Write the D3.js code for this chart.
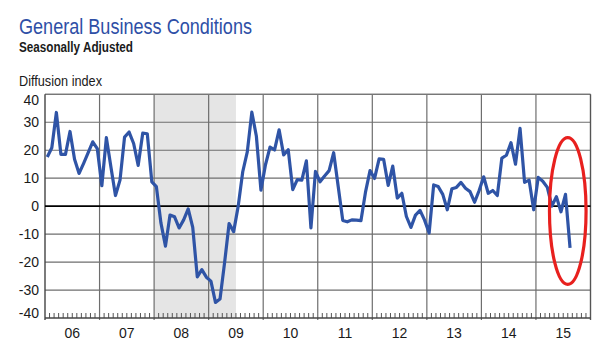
<!DOCTYPE html>
<html>
<head>
<meta charset="utf-8">
<script src="https://cdn.jsdelivr.net/npm/d3@7"></script>
<style>
  html, body { margin: 0; padding: 0; background: #fff; }
  svg { display: block; }
</style>
</head>
<body>
<svg id="chart" width="599" height="350"></svg>
<script>
// ---- Data (monthly, Jan 2006 – Aug 2015) ----
const startYear = 2006;
const yearLabels = ["06","07","08","09","10","11","12","13","14","15"];
const yTicks = [40, 30, 20, 10, 0, -10, -20, -30, -40];
const generalBusiness = [
  // 2006
  17.6, 20.9, 33.5, 18.5, 18.5, 26.7, 16.8, 11.7, 15.3, 19.1, 23.0, 20.6,
  // 2007
  7.3, 24.5, 14.0, 3.8, 9.3, 24.7, 26.5, 22.4, 14.6, 26.1, 25.9, 8.7,
  // 2008
  7.0, -6.0, -14.3, -3.2, -3.8, -7.8, -4.9, -1.0, -7.6, -25.3, -22.7, -25.4,
  // 2009
  -26.8, -34.4, -33.2, -20.3, -6.2, -9.1, 0.0, 12.3, 19.4, 33.6, 25.0, 5.7,
  // 2010
  14.8, 21.1, 20.1, 27.3, 18.3, 20.2, 5.9, 9.5, 9.3, 16.2, -7.8, 12.4,
  // 2011
  8.7, 10.8, 12.7, 19.1, 7.0, -5.1, -5.6, -4.9, -5.0, -5.2, 5.0, 12.7,
  // 2012
  9.9, 16.9, 16.7, 7.4, 14.3, 2.9, 4.6, -3.7, -7.6, -3.2, -1.5, -5.0,
  // 2013
  -9.6, 7.6, 7.0, 4.2, -1.3, 6.2, 6.7, 8.5, 6.4, 5.2, 1.4, 5.6,
  // 2014
  10.5, 4.6, 5.6, 3.8, 17.2, 18.2, 22.7, 15.0, 27.8, 8.5, 9.3, -1.3,
  // 2015
  10.3, 8.9, 6.7, 0.0, 3.4, -2.0, 4.2, -14.9
];
// Recession (month indexes from Jan 2006): Jan 2008 .. Jun 2009 inclusive
const recession = [24, 41];
// Highlight centre month index (Aug 2015) and value range it encloses
const highlightMonth = 115;
const highlightRange = [-28, 24.5];

const svg = d3.select("#chart");
const pLeft = 45, pRight = 590.5, pTop = 94.3, pBottom = 318;

const x = d3.scaleLinear().domain([0, yearLabels.length * 12]).range([pLeft, pRight]);
const y = d3.scaleLinear().domain([-40, 40]).range([pBottom, pTop]);

const regular = "'Liberation Sans',Arial,sans-serif";

// Titles (condensed via textLength)
svg.append("text").attr("x", 19).attr("y", 34).attr("fill", "#2e4fa6")
  .attr("textLength", 233).attr("lengthAdjust", "spacingAndGlyphs")
  .style("font-family", regular).style("font-size", "22px")
  .text("General Business Conditions");
svg.append("text").attr("x", 19).attr("y", 51.5).attr("fill", "#1a1a1a")
  .attr("textLength", 114).attr("lengthAdjust", "spacingAndGlyphs")
  .style("font-family", regular).style("font-size", "14px").style("font-weight", "bold")
  .text("Seasonally Adjusted");
svg.append("text").attr("x", 19).attr("y", 85.5).attr("fill", "#1a1a1a")
  .attr("textLength", 83).attr("lengthAdjust", "spacingAndGlyphs")
  .style("font-family", regular).style("font-size", "14px").style("font-weight", "500")
  .text("Diffusion index");

// Recession shading
svg.append("rect")
  .attr("x", x(recession[0])).attr("y", pTop)
  .attr("width", x(recession[1] + 1) - x(recession[0]))
  .attr("height", pBottom - pTop)
  .attr("fill", "#e5e5e5");

// Horizontal gridlines
svg.append("g").selectAll("line").data(yTicks.filter(d => d !== 0 && d !== -40))
  .join("line")
  .attr("x1", pLeft).attr("x2", pRight)
  .attr("y1", d => y(d)).attr("y2", d => y(d))
  .attr("stroke", "#6e6e6e").attr("stroke-width", 1.2);

// Vertical year lines
const years = d3.range(1, yearLabels.length);
svg.append("g").selectAll("line").data(years)
  .join("line")
  .attr("x1", d => x(d * 12)).attr("x2", d => x(d * 12))
  .attr("y1", pTop).attr("y2", pBottom + 2)
  .attr("stroke", "#6e6e6e").attr("stroke-width", 1.2);

// Minor month ticks
const months = d3.range(1, yearLabels.length * 12).filter(m => m % 12 !== 0);
svg.append("g").selectAll("line").data(months)
  .join("line")
  .attr("x1", d => x(d)).attr("x2", d => x(d))
  .attr("y1", pBottom - 5).attr("y2", pBottom)
  .attr("stroke", "#555").attr("stroke-width", 1);

// Frame
svg.append("line").attr("x1", pLeft).attr("x2", pRight).attr("y1", pTop).attr("y2", pTop)
  .attr("stroke", "#777").attr("stroke-width", 1.2);
svg.append("line").attr("x1", pRight).attr("x2", pRight).attr("y1", pTop).attr("y2", pBottom + 2)
  .attr("stroke", "#555").attr("stroke-width", 1.4);
svg.append("line").attr("x1", pLeft).attr("x2", pLeft).attr("y1", pTop).attr("y2", pBottom + 2)
  .attr("stroke", "#444").attr("stroke-width", 1.4);
svg.append("line").attr("x1", pLeft).attr("x2", pRight).attr("y1", pBottom).attr("y2", pBottom)
  .attr("stroke", "#444").attr("stroke-width", 1.4);

// Zero line
svg.append("line").attr("x1", pLeft).attr("x2", pRight).attr("y1", y(0)).attr("y2", y(0))
  .attr("stroke", "#000").attr("stroke-width", 1.6);

// Y tick labels
svg.append("g").selectAll("text").data(yTicks)
  .join("text")
  .attr("x", 39)
  .attr("y", d => y(d) + (d === 40 ? 5.5 : d === -40 ? -4.5 : 0))
  .attr("dy", "0.35em")
  .attr("text-anchor", "end")
  .attr("fill", "#1a1a1a")
  .style("font-family", regular).style("font-size", "14px")
  .text(d => d);

// X year labels
svg.append("g").selectAll("text").data(yearLabels)
  .join("text")
  .attr("x", (d, i) => x(i * 12 + 6))
  .attr("y", 338)
  .attr("text-anchor", "middle")
  .attr("fill", "#1a1a1a")
  .style("font-family", regular).style("font-size", "14px")
  .text(d => d);

// Data line
const line = d3.line().x((d, i) => x(i + 0.5)).y(d => y(d));
svg.append("path").datum(generalBusiness)
  .attr("d", line)
  .attr("fill", "none")
  .attr("stroke", "#2f54a6")
  .attr("stroke-width", 3.2)
  .attr("stroke-linejoin", "round");

// Red highlight ellipse around recent months
svg.append("ellipse")
  .attr("cx", x(highlightMonth)).attr("cy", (y(highlightRange[0]) + y(highlightRange[1])) / 2)
  .attr("rx", 18.3).attr("ry", (y(highlightRange[0]) - y(highlightRange[1])) / 2)
  .attr("fill", "none").attr("stroke", "#e8201e").attr("stroke-width", 3.2);
</script>
</body>
</html>
